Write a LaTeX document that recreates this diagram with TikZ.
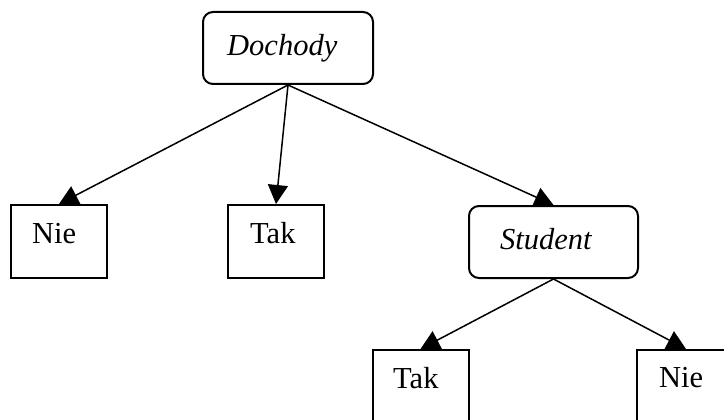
\documentclass[tikz,border=0pt]{standalone}
\usepackage{fontspec}
\setmainfont{Liberation Serif}
\usetikzlibrary{arrows.meta}
\begin{document}
\begin{tikzpicture}[x=1pt,y=-1pt,
  boxnode/.style={draw=black, line width=2pt, inner sep=0pt, minimum width=96pt, minimum height=73pt},
  roundnode/.style={draw=black, line width=2pt, inner sep=0pt, rounded corners=10pt, minimum width=170pt, minimum height=72pt},
  lbl/.style={inner sep=0pt, anchor=base west, font=\fontsize{30.5}{36}\selectfont},
  ilbl/.style={lbl, font=\fontsize{30.5}{36}\selectfont\itshape},
  conn/.style={line width=1.5pt, -{Triangle[length=19pt,width=20pt]}}
]
\useasboundingbox (0,0) rectangle (724,420);
\clip (0,0) rectangle (724,420);
\fill[white] (0,0) rectangle (724,420);

\node[roundnode] (doch) at (288,48) {};
\node[boxnode] (nie1) at (59,241.5) {};
\node[boxnode] (tak1) at (276,241.5) {};
\node[roundnode, minimum width=169pt] (stud) at (553.5,242) {};
\node[boxnode] (tak2) at (420.5,386.5) {};
\node[boxnode, minimum width=120pt] (nie2) at (697,386.5) {};

\node[ilbl] (tdoch) at (227,56) {Dochody};
\node[lbl] (tnie1) at (32,243) {Nie};
\node[lbl] (ttak1) at (250,243) {Tak};
\node[ilbl] (tstud) at (500,249) {Student};
\node[lbl] (ttak2) at (393,388) {Tak};
\node[lbl] (tnie2) at (659,387) {Nie};

\draw[conn] (doch.south) -- (nie1.north);
\draw[conn] (doch.south) -- (tak1.north);
\draw[conn] (doch.south) -- (stud.north);
\draw[conn] (stud.south) -- (tak2.north);
\draw[conn] (stud.south) -- ([xshift=50pt]nie2.north west);
\end{tikzpicture}
\end{document}
